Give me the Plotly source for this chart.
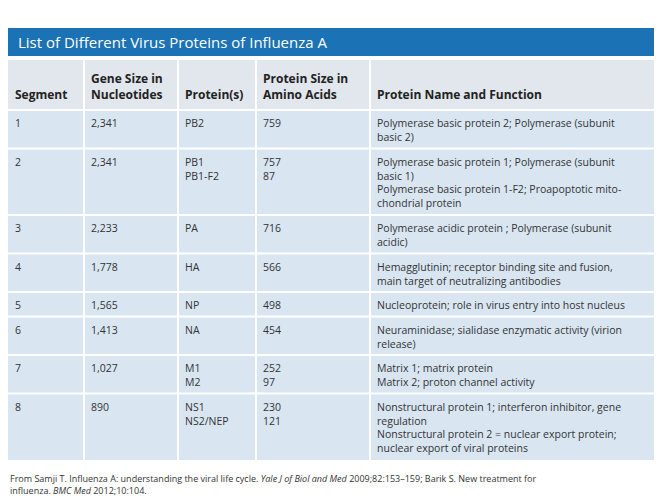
import plotly.graph_objects as go

segments = ["1", "2", "3", "4", "5", "6", "7", "8"]
gene_sizes = ["2,341", "2,341", "2,233", "1,778", "1,565", "1,413", "1,027", "890"]
proteins = ["PB2", "PB1<br>PB1-F2", "PA", "HA", "NP", "NA", "M1<br>M2", "NS1<br>NS2/NEP"]
protein_sizes = ["759", "757<br>87", "716", "566", "498", "454", "252<br>97", "230<br>121"]
functions = [
    "Polymerase basic protein 2; Polymerase (subunit<br>basic 2)",
    "Polymerase basic protein 1; Polymerase (subunit<br>basic 1)<br>Polymerase basic protein 1-F2; Proapoptotic mito-<br>chondrial protein",
    "Polymerase acidic protein ; Polymerase (subunit<br>acidic)",
    "Hemagglutinin; receptor binding site and fusion,<br>main target of neutralizing antibodies",
    "Nucleoprotein; role in virus entry into host nucleus",
    "Neuraminidase; sialidase enzymatic activity (virion<br>release)",
    "Matrix 1; matrix protein<br>Matrix 2; proton channel activity",
    "Nonstructural protein 1; interferon inhibitor, gene<br>regulation<br>Nonstructural protein 2 = nuclear export protein;<br>nuclear export of viral proteins",
]
headers = ["<b>Segment</b>", "<b>Gene Size in<br>Nucleotides</b>", "<b>Protein(s)</b>",
           "<b>Protein Size in<br>Amino Acids</b>", "<b>Protein Name and Function</b>"]

W, H = 662, 496
font = "Open Sans, Noto Sans, sans-serif"
col_edges = [0, 76, 170, 248, 362, 662]
columns = [segments, gene_sizes, proteins, protein_sizes, functions]

fig = go.Figure()
shapes, annos = [], []

# blue title bar
shapes.append(dict(type="rect", x0=0, x1=W, y0=20, y1=48, fillcolor="#1b72b4", line_width=0))
annos.append(dict(text="<b>TABLE 11.17</b>", x=0, y=-1, xanchor="left", yanchor="top",
                  font=dict(family=font, size=13, color="#1b72b4")))
annos.append(dict(text="List of Different Virus Proteins of Influenza A", x=8, y=34,
                  xanchor="left", yanchor="middle", font=dict(family=font, size=15, color="white")))

# header
hy0, hy1 = 52, 102
shapes.append(dict(type="rect", x0=0, x1=W, y0=hy0, y1=hy1, fillcolor="#e2e7ed", line_width=0))
for i, h in enumerate(headers):
    annos.append(dict(text=h, x=col_edges[i] + 5, y=hy1 - 5, xanchor="left", yanchor="bottom",
                      align="left", font=dict(family=font, size=12, color="#222")))

# body rows
y = hy1
nlines = [max(c[r].count("<br>") + 1 for c in columns) for r in range(len(segments))]
row_tops = []
for n in nlines:
    row_tops.append(y)
    y += 10.5 + 14 * n
body_bottom = y
shapes.append(dict(type="rect", x0=0, x1=W, y0=hy1, y1=body_bottom, fillcolor="#d9e6f2", line_width=0))
for r, top in enumerate(row_tops):
    shapes.append(dict(type="line", x0=0, x1=W, y0=top, y1=top, line=dict(color="white", width=2)))
    for i, c in enumerate(columns):
        annos.append(dict(text=c[r], x=col_edges[i] + 5, y=top + 4, xanchor="left", yanchor="top",
                          align="left", font=dict(family=font, size=10.5, color="#333")))
for xe in col_edges[1:-1]:
    shapes.append(dict(type="line", x0=xe, x1=xe, y0=hy0, y1=body_bottom, line=dict(color="white", width=2)))

annos.append(dict(text="From Samji T. Influenza A: understanding the viral life cycle. <i>Yale J of Biol and Med</i> 2009;82:153–159; Barik S. New treatment for<br>influenza. <i>BMC Med</i> 2012;10:104.",
                  x=0, y=body_bottom + 10, xanchor="left", yanchor="top", align="left",
                  font=dict(family=font, size=9, color="#333")))

for a in annos:
    a.update(xref="x", yref="y", showarrow=False)
for s in shapes:
    s.update(xref="x", yref="y", layer="below")

fig.update_layout(width=W, height=H, margin=dict(l=0, r=0, t=0, b=0),
                  paper_bgcolor="white", plot_bgcolor="white",
                  shapes=shapes, annotations=annos,
                  xaxis=dict(range=[0, W], visible=False, fixedrange=True),
                  yaxis=dict(range=[H, 0], visible=False, fixedrange=True))
fig.write_html("out.html")
